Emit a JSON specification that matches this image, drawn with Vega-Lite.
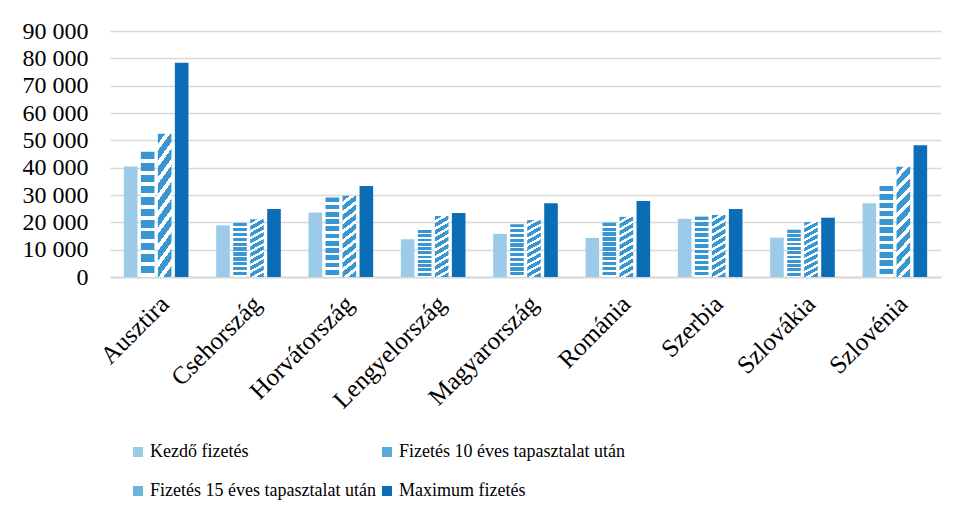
{
  "$schema": "https://vega.github.io/schema/vega-lite/v6.json",
  "width": 831,
  "height": 246,
  "autosize": {"type": "none"},
  "padding": {"left": 110, "top": 31, "right": 15, "bottom": 240},
  "background": "white",
  "data": {
    "values": [
      {"orszag": "Ausztira", "tipus": "Kezdő fizetés", "ertek": 40400},
      {"orszag": "Ausztira", "tipus": "Fizetés 10 éves tapasztalat után", "ertek": 45800},
      {"orszag": "Ausztira", "tipus": "Fizetés 15 éves tapasztalat után", "ertek": 52400},
      {"orszag": "Ausztira", "tipus": "Maximum fizetés", "ertek": 78400},
      {"orszag": "Csehország", "tipus": "Kezdő fizetés", "ertek": 18900},
      {"orszag": "Csehország", "tipus": "Fizetés 10 éves tapasztalat után", "ertek": 19800},
      {"orszag": "Csehország", "tipus": "Fizetés 15 éves tapasztalat után", "ertek": 21100},
      {"orszag": "Csehország", "tipus": "Maximum fizetés", "ertek": 24900},
      {"orszag": "Horvátország", "tipus": "Kezdő fizetés", "ertek": 23600},
      {"orszag": "Horvátország", "tipus": "Fizetés 10 éves tapasztalat után", "ertek": 29100},
      {"orszag": "Horvátország", "tipus": "Fizetés 15 éves tapasztalat után", "ertek": 29700},
      {"orszag": "Horvátország", "tipus": "Maximum fizetés", "ertek": 33300},
      {"orszag": "Lengyelország", "tipus": "Kezdő fizetés", "ertek": 13800},
      {"orszag": "Lengyelország", "tipus": "Fizetés 10 éves tapasztalat után", "ertek": 17200},
      {"orszag": "Lengyelország", "tipus": "Fizetés 15 éves tapasztalat után", "ertek": 22300},
      {"orszag": "Lengyelország", "tipus": "Maximum fizetés", "ertek": 23400},
      {"orszag": "Magyarország", "tipus": "Kezdő fizetés", "ertek": 15800},
      {"orszag": "Magyarország", "tipus": "Fizetés 10 éves tapasztalat után", "ertek": 19300},
      {"orszag": "Magyarország", "tipus": "Fizetés 15 éves tapasztalat után", "ertek": 20800},
      {"orszag": "Magyarország", "tipus": "Maximum fizetés", "ertek": 27000},
      {"orszag": "Románia", "tipus": "Kezdő fizetés", "ertek": 14300},
      {"orszag": "Románia", "tipus": "Fizetés 10 éves tapasztalat után", "ertek": 19900},
      {"orszag": "Románia", "tipus": "Fizetés 15 éves tapasztalat után", "ertek": 22000},
      {"orszag": "Románia", "tipus": "Maximum fizetés", "ertek": 27800},
      {"orszag": "Szerbia", "tipus": "Kezdő fizetés", "ertek": 21300},
      {"orszag": "Szerbia", "tipus": "Fizetés 10 éves tapasztalat után", "ertek": 22100},
      {"orszag": "Szerbia", "tipus": "Fizetés 15 éves tapasztalat után", "ertek": 22700},
      {"orszag": "Szerbia", "tipus": "Maximum fizetés", "ertek": 24900},
      {"orszag": "Szlovákia", "tipus": "Kezdő fizetés", "ertek": 14400},
      {"orszag": "Szlovákia", "tipus": "Fizetés 10 éves tapasztalat után", "ertek": 17300},
      {"orszag": "Szlovákia", "tipus": "Fizetés 15 éves tapasztalat után", "ertek": 20100},
      {"orszag": "Szlovákia", "tipus": "Maximum fizetés", "ertek": 21700},
      {"orszag": "Szlovénia", "tipus": "Kezdő fizetés", "ertek": 27000},
      {"orszag": "Szlovénia", "tipus": "Fizetés 10 éves tapasztalat után", "ertek": 33300},
      {"orszag": "Szlovénia", "tipus": "Fizetés 15 éves tapasztalat után", "ertek": 40300},
      {"orszag": "Szlovénia", "tipus": "Maximum fizetés", "ertek": 48200}
    ]
  },
  "mark": {"type": "bar"},
  "encoding": {
    "x": {
      "field": "orszag",
      "type": "nominal",
      "sort": null,
      "scale": {"paddingInner": 0.3, "paddingOuter": 0.15},
      "axis": {
        "title": null,
        "labelAngle": -45,
        "labelFont": "Liberation Serif",
        "labelFontSize": 25,
        "labelColor": "#000000",
        "labelPadding": 14,
        "labelDx": -6,
        "labelDy": 4,
        "ticks": false,
        "domain": true,
        "domainColor": "#d9d9d9",
        "domainWidth": 2,
        "grid": false
      }
    },
    "xOffset": {
      "field": "tipus",
      "type": "nominal",
      "sort": ["Kezdő fizetés", "Fizetés 10 éves tapasztalat után", "Fizetés 15 éves tapasztalat után", "Maximum fizetés"],
      "scale": {"paddingInner": 0.2}
    },
    "y": {
      "field": "ertek",
      "type": "quantitative",
      "scale": {"domain": [0, 90000]},
      "axis": {
        "title": null,
        "values": [0, 10000, 20000, 30000, 40000, 50000, 60000, 70000, 80000, 90000],
        "labelExpr": "replace(format(datum.value, ','), ',', ' ')",
        "labelFont": "Liberation Serif",
        "labelFontSize": 24,
        "labelColor": "#000000",
        "labelPadding": 22,
        "ticks": false,
        "domain": false,
        "grid": true,
        "gridColor": "#d9d9d9",
        "gridWidth": 1.3
      }
    },
    "color": {
      "field": "tipus",
      "type": "nominal",
      "sort": ["Kezdő fizetés", "Fizetés 10 éves tapasztalat után", "Fizetés 15 éves tapasztalat után", "Maximum fizetés"],
      "scale": {
        "domain": ["Kezdő fizetés", "Fizetés 10 éves tapasztalat után", "Fizetés 15 éves tapasztalat után", "Maximum fizetés"],
        "range": ["#9ccbea", "#5aa9dc", "#6cb3e0", "#0a6db5"]
      },
      "condition": [
        {
          "test": "datum.tipus === 'Fizetés 10 éves tapasztalat után'",
          "value": {
            "gradient": "linear", "x1": 0, "y1": 0, "x2": 0, "y2": 1,
            "stops": [
              {"offset": 0, "color": "#3897d3"}, {"offset": 0.06, "color": "#3897d3"}, {"offset": 0.06, "color": "#ffffff"}, {"offset": 0.0909, "color": "#ffffff"},
              {"offset": 0.0909, "color": "#3897d3"}, {"offset": 0.1509, "color": "#3897d3"}, {"offset": 0.1509, "color": "#ffffff"}, {"offset": 0.1818, "color": "#ffffff"},
              {"offset": 0.1818, "color": "#3897d3"}, {"offset": 0.2418, "color": "#3897d3"}, {"offset": 0.2418, "color": "#ffffff"}, {"offset": 0.2727, "color": "#ffffff"},
              {"offset": 0.2727, "color": "#3897d3"}, {"offset": 0.3327, "color": "#3897d3"}, {"offset": 0.3327, "color": "#ffffff"}, {"offset": 0.3636, "color": "#ffffff"},
              {"offset": 0.3636, "color": "#3897d3"}, {"offset": 0.4236, "color": "#3897d3"}, {"offset": 0.4236, "color": "#ffffff"}, {"offset": 0.4545, "color": "#ffffff"},
              {"offset": 0.4545, "color": "#3897d3"}, {"offset": 0.5145, "color": "#3897d3"}, {"offset": 0.5145, "color": "#ffffff"}, {"offset": 0.5455, "color": "#ffffff"},
              {"offset": 0.5455, "color": "#3897d3"}, {"offset": 0.6055, "color": "#3897d3"}, {"offset": 0.6055, "color": "#ffffff"}, {"offset": 0.6364, "color": "#ffffff"},
              {"offset": 0.6364, "color": "#3897d3"}, {"offset": 0.6964, "color": "#3897d3"}, {"offset": 0.6964, "color": "#ffffff"}, {"offset": 0.7273, "color": "#ffffff"},
              {"offset": 0.7273, "color": "#3897d3"}, {"offset": 0.7873, "color": "#3897d3"}, {"offset": 0.7873, "color": "#ffffff"}, {"offset": 0.8182, "color": "#ffffff"},
              {"offset": 0.8182, "color": "#3897d3"}, {"offset": 0.8782, "color": "#3897d3"}, {"offset": 0.8782, "color": "#ffffff"}, {"offset": 0.9091, "color": "#ffffff"},
              {"offset": 0.9091, "color": "#3897d3"}, {"offset": 0.9691, "color": "#3897d3"}, {"offset": 0.9691, "color": "#ffffff"}, {"offset": 1, "color": "#ffffff"}
            ]
          }
        },
        {
          "test": "datum.tipus === 'Fizetés 15 éves tapasztalat után'",
          "value": {
            "gradient": "linear", "x1": 0, "y1": 0, "x2": 0.15, "y2": 1.15,
            "stops": [
              {"offset": 0, "color": "#3897d3"}, {"offset": 0.06, "color": "#3897d3"}, {"offset": 0.06, "color": "#ffffff"}, {"offset": 0.1, "color": "#ffffff"},
              {"offset": 0.1, "color": "#3897d3"}, {"offset": 0.16, "color": "#3897d3"}, {"offset": 0.16, "color": "#ffffff"}, {"offset": 0.2, "color": "#ffffff"},
              {"offset": 0.2, "color": "#3897d3"}, {"offset": 0.26, "color": "#3897d3"}, {"offset": 0.26, "color": "#ffffff"}, {"offset": 0.3, "color": "#ffffff"},
              {"offset": 0.3, "color": "#3897d3"}, {"offset": 0.36, "color": "#3897d3"}, {"offset": 0.36, "color": "#ffffff"}, {"offset": 0.4, "color": "#ffffff"},
              {"offset": 0.4, "color": "#3897d3"}, {"offset": 0.46, "color": "#3897d3"}, {"offset": 0.46, "color": "#ffffff"}, {"offset": 0.5, "color": "#ffffff"},
              {"offset": 0.5, "color": "#3897d3"}, {"offset": 0.56, "color": "#3897d3"}, {"offset": 0.56, "color": "#ffffff"}, {"offset": 0.6, "color": "#ffffff"},
              {"offset": 0.6, "color": "#3897d3"}, {"offset": 0.66, "color": "#3897d3"}, {"offset": 0.66, "color": "#ffffff"}, {"offset": 0.7, "color": "#ffffff"},
              {"offset": 0.7, "color": "#3897d3"}, {"offset": 0.76, "color": "#3897d3"}, {"offset": 0.76, "color": "#ffffff"}, {"offset": 0.8, "color": "#ffffff"},
              {"offset": 0.8, "color": "#3897d3"}, {"offset": 0.86, "color": "#3897d3"}, {"offset": 0.86, "color": "#ffffff"}, {"offset": 0.9, "color": "#ffffff"},
              {"offset": 0.9, "color": "#3897d3"}, {"offset": 0.96, "color": "#3897d3"}, {"offset": 0.96, "color": "#ffffff"}, {"offset": 1, "color": "#ffffff"}
            ]
          }
        }
      ],
      "legend": {
        "title": null,
        "orient": "none",
        "legendX": 19,
        "legendY": 412,
        "direction": "horizontal",
        "columns": 2,
        "columnPadding": 2,
        "rowPadding": 21,
        "symbolType": "square",
        "symbolSize": 100,
        "symbolStrokeWidth": 0,
        "labelOffset": 3,
        "labelFont": "Liberation Serif",
        "labelFontSize": 18,
        "labelColor": "#000000",
        "labelLimit": 400
      }
    }
  },
  "config": {
    "font": "Liberation Serif",
    "view": {"stroke": null}
  }
}
